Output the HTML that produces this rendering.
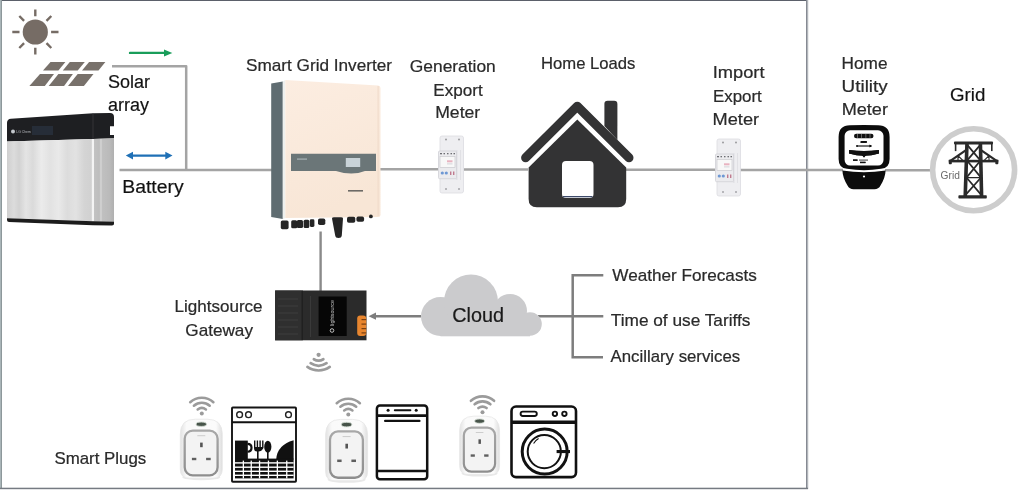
<!DOCTYPE html>
<html><head><meta charset="utf-8">
<style>
html,body{margin:0;padding:0;background:#fff;width:1024px;height:494px;overflow:hidden}
svg{display:block;filter:blur(0.45px)}
text{font-family:"Liberation Sans",sans-serif}
.t{fill:#2a2a2a} .t text{stroke:#2a2a2a;stroke-width:0.22px}
</style></head><body>
<svg width="1024" height="494" viewBox="0 0 1024 494">
<defs>
 <linearGradient id="batg" gradientUnits="userSpaceOnUse" x1="7" x2="93" y1="0" y2="0">
  <stop offset="0" stop-color="#cfcfcf"/><stop offset="0.08" stop-color="#dcdcdc"/><stop offset="0.14" stop-color="#d2d2d2"/><stop offset="0.22" stop-color="#e4e4e4"/><stop offset="0.3" stop-color="#dadada"/><stop offset="0.4" stop-color="#ebebeb"/><stop offset="0.5" stop-color="#e2e2e2"/><stop offset="0.6" stop-color="#e9e9e9"/><stop offset="0.7" stop-color="#dcdcdc"/><stop offset="0.8" stop-color="#e2e2e2"/><stop offset="0.9" stop-color="#d4d4d4"/><stop offset="1" stop-color="#d0d0d0"/>
 </linearGradient>
 <linearGradient id="invface" x1="0" x2="0.3" y1="0" y2="1">
  <stop offset="0" stop-color="#fcede1"/><stop offset="1" stop-color="#f8e6d6"/>
 </linearGradient>
 <linearGradient id="batside" gradientUnits="userSpaceOnUse" x1="93" x2="114" y1="0" y2="0">
  <stop offset="0" stop-color="#c4c4c4"/><stop offset="0.3" stop-color="#bdbdbd"/><stop offset="0.38" stop-color="#d6d6d6"/><stop offset="0.45" stop-color="#c0c0c0"/><stop offset="0.8" stop-color="#bababa"/><stop offset="1" stop-color="#b0b0b0"/>
 </linearGradient>
</defs>
<!-- frame -->
<rect x="0" y="0" width="807" height="1" fill="#5b606a"/>
<rect x="0" y="0" width="1" height="489" fill="#a9b5b8"/><rect x="1" y="0" width="1" height="489" fill="#8d989b"/>
<rect x="806" y="0" width="1.2" height="489" fill="#868a93"/><rect x="807.2" y="0" width="1" height="489" fill="#a6abb1"/>
<rect x="0" y="487.7" width="808" height="1.5" fill="#757a82"/>

<!-- connector lines -->
<g stroke="#a4a4a4" stroke-width="2.5" fill="none">
 <path d="M112 66.25 H186.2 V170" stroke-linejoin="round"/>
 <path d="M119.5 170 H272"/>
 <path d="M380 169.3 H438"/>
 <path d="M464 169.5 H528"/>
 <path d="M626 169.7 H715"/>
 <path d="M740 169.9 H843"/>
 <path d="M885 170.3 H930"/>
</g>
<path d="M320.6 231.5 V291" stroke="#8a8a8a" stroke-width="2.4"/>
<g stroke="#7d7d7d" stroke-width="2.5" fill="none">
 <path d="M374 316.2 H421"/>
 <path d="M538 316.3 H603.3"/>
 <path d="M603.3 275.35 H572.7 V357.2 H603"/>
</g>
<path d="M368.5 316.2 L376 312.6 L376 319.8 Z" fill="#7d7d7d"/>

<!-- sun -->
<g fill="#766c65" stroke="#766c65">
 <circle cx="35.3" cy="32" r="12.6" stroke="none"/>
 <g stroke-width="2.4" stroke-linecap="butt">
  <path d="M35.3 9.5 V16.2 M35.3 47.8 V54.5 M12.3 32 H19.5 M51.1 32 H58.5"/>
  <path d="M19.3 16 L24.1 20.8 M51.3 16 L46.5 20.8 M19.3 48 L24.1 43.2 M51.3 48 L46.5 43.2"/>
 </g>
</g>
<!-- solar panel -->
<g fill="#78716b">
 <path d="M50.5 62 L65.4 62 L58.4 70.6 L43 70.6 Z"/>
 <path d="M69.8 62 L84.8 62 L77.7 70.6 L62.8 70.6 Z"/>
 <path d="M89.1 62 L105.4 62 L98.5 70.6 L82 70.6 Z"/>
 <path d="M40 74 L54 74 L44.8 85.9 L29.4 85.9 Z"/>
 <path d="M58.4 74 L72.9 74 L64.1 85.9 L48.7 85.9 Z"/>
 <path d="M77.7 74 L93.5 74 L83.9 85.9 L68 85.9 Z"/>
</g>
<!-- battery -->
<g>
 <path d="M7 141.5 L7 123 Q7 119 11 118.8 L93 113.2 L110 113 Q114 113 114 117 L114 126.3 L110 126.3 L110 135 L114 135 L114 138.5 L93 139 Z" fill="#1e1f22"/>
 <path d="M7 141.5 L93 139 L114 138.5 L114 222 L93 221.5 L7 218.5 Z" fill="url(#batg)"/>
 <path d="M93 139 L114 138.5 L114 222 L93 221.5 Z" fill="url(#batside)"/>
 <rect x="91.8" y="139" width="2.2" height="82.5" fill="#f4f4f4"/>
 <path d="M7 218.3 L93 221.3 L114 221.7 L114 224 Q114 225.4 112 225.4 L93 225.2 L9 222 Q7 222 7 220 Z" fill="#1c1c1c"/>
 <rect x="32" y="126" width="21" height="9" fill="#262d38"/>
 <line x1="93" y1="113.5" x2="93" y2="139" stroke="#3a3b3e" stroke-width="0.8"/>
 <circle cx="13" cy="131.4" r="2" fill="#c3c7cc"/>
 <text x="16.3" y="133" font-size="4.4" fill="#b9bdc3" textLength="14.5" lengthAdjust="spacingAndGlyphs">LG Chem</text>
</g>

<!-- inverter -->
<g>
 <path d="M271.2 83.5 L282.8 81.5 L282.8 219 L271.2 217 Z" fill="#5f6c71"/>
 <path d="M282.8 81.5 L285.3 80 L285.3 218 L282.8 219 Z" fill="#eef0ee"/>
 <path d="M285.3 80 L378 85.5 Q380.5 85.7 380.5 88 L380.5 215 Q380.5 217 378 217 L285.3 218 Z" fill="url(#invface)"/>
 <rect x="377.6" y="86" width="1" height="130" fill="#efd9c9"/>
 <path d="M291 153.7 L376 153.7 L376 171 L365 171 Q352 176 336 171 L291 171 Z" fill="#6b7678"/>
 <rect x="345.8" y="158" width="14.4" height="9" fill="#c9d3d8"/>
 <rect x="297" y="158.5" width="10" height="1.2" fill="#a9b3b5"/>
 <rect x="348" y="190" width="15" height="1.6" fill="#6d6a66"/>
 <g fill="#252525">
  <rect x="280.8" y="220.5" width="7.8" height="8.7" rx="1.6"/>
  <rect x="291.2" y="220.3" width="6" height="8" rx="1.5"/>
  <rect x="296.8" y="220" width="6.2" height="8" rx="1.5"/>
  <rect x="303.6" y="219.7" width="5.7" height="8.3" rx="1.5"/>
  <rect x="309.8" y="219.3" width="4.6" height="7.7" rx="1.4"/>
  <rect x="318" y="218.5" width="7.3" height="6.5" rx="1.8"/>
  <path d="M332 218.5 Q332 217.3 334 217.3 L341 217.3 Q343 217.3 343 218.5 L341.8 235.5 Q341.5 238 338.5 238 Q335.5 238 335.2 235.5 Z"/>
  <rect x="347" y="216.8" width="8.3" height="5.9" rx="1.8"/>
  <rect x="356.4" y="216.6" width="7.7" height="5.2" rx="1.8"/>
  <circle cx="370.9" cy="216.4" r="1.9"/>
 </g>
</g>

<!-- DIN meters -->
<g id="m1">
 <rect x="440" y="136" width="23.5" height="57" rx="2" fill="#eeeef1" stroke="#dcdce1" stroke-width="0.8"/>
 <circle cx="446" cy="139.5" r="1" fill="#9a9a9e"/><circle cx="459" cy="139.5" r="1" fill="#9a9a9e"/>
 <circle cx="446" cy="189" r="1" fill="#a5a5a9"/><circle cx="459" cy="189" r="1" fill="#a5a5a9"/>
 <rect x="438.5" y="151" width="18" height="27.7" rx="1" fill="#ebebee" stroke="#cdcdd3" stroke-width="0.7"/>
 <g fill="#6d6e73"><rect x="440" y="153" width="2" height="1.3"/><rect x="443.5" y="153" width="1.5" height="1.3"/><rect x="447" y="153" width="1.5" height="1.3"/><rect x="450.5" y="153" width="1.5" height="1.3"/><rect x="453.5" y="153" width="1.5" height="1.3"/></g>
 <rect x="440" y="156.3" width="15" height="11.2" fill="#f8f8f8" stroke="#c3c3c8" stroke-width="0.6"/>
 <rect x="447" y="160.3" width="5.5" height="2" fill="#e8b3c0"/>
 <rect x="447" y="163.5" width="5.5" height="0.8" fill="#c9cbd2"/>
 <circle cx="442.3" cy="173" r="1.6" fill="#6e98d4"/><circle cx="446.3" cy="173" r="1.6" fill="#6e98d4"/>
 <rect x="450" y="171.5" width="1.4" height="3.5" fill="#c07a8e"/><rect x="453" y="171.5" width="1.4" height="3.5" fill="#c07a8e"/>
 <rect x="456.5" y="150" width="0.8" height="30" fill="#d6d6dc"/>
 <rect x="460" y="150" width="0.8" height="30" fill="#dedee3"/>
</g>
<use href="#m1" transform="translate(277 3)"/>

<!-- house -->
<g fill="#333334">
 <path d="M604.4 126 L604.4 104 Q604.4 100.8 607.6 100.8 L614.2 100.8 Q617.4 100.8 617.4 104 L617.4 140 Z"/>
 <path d="M525.6 157.8 L577.3 106.3 L629 157.8" fill="none" stroke="#333334" stroke-width="9" stroke-linecap="round" stroke-linejoin="round"/>
 <path d="M577.3 119.6 L626.2 167.5 L626.2 199 Q626.2 207.3 618 207.3 L536.8 207.3 Q528.6 207.3 528.6 199 L528.6 167.5 Z"/>
 <rect x="562" y="161" width="31.5" height="37" rx="4" fill="#fff"/>
 <rect x="563" y="196" width="29.5" height="1.3" fill="#3d4a6a"/>
</g>

<!-- utility meter -->
<g>
 <path d="M838.6 137 Q838.6 125.2 850 125.2 Q864 124.6 878 125.2 Q889.6 125.2 889.6 137 L889.6 159 Q889.6 168.3 881 168.8 Q864 171.6 847 168.8 Q838.6 168.3 838.6 159 Z" fill="#0c0c0c"/>
 <rect x="844.6" y="130.3" width="38.9" height="35.3" rx="5.5" fill="#fff"/>
 <path d="M842.4 170.6 Q864 174 885.6 170.6 Q885.3 178 880.5 185.5 Q878.5 189.3 874.5 189.3 L853.5 189.3 Q849.5 189.3 847.5 185.5 Q842.7 178 842.4 170.6 Z" fill="#0c0c0c"/>
 <circle cx="864" cy="176.5" r="1.1" fill="#fff"/>
 <rect x="854" y="133.7" width="19.5" height="4.5" rx="2.25" fill="#111"/>
 <g fill="#9a9a9a"><rect x="857.3" y="134" width="0.6" height="3.9"/><rect x="861.4" y="134" width="0.6" height="3.9"/><rect x="865.6" y="134" width="0.6" height="3.9"/><rect x="869.7" y="134" width="0.6" height="3.9"/></g>
 <rect x="860.7" y="141" width="6.4" height="1.8" rx="0.9" fill="#111"/>
 <path d="M857 146 H870.5" stroke="#8a8a8a" stroke-width="0.9"/>
 <circle cx="857" cy="146" r="1" fill="#111"/><circle cx="870.5" cy="146" r="1" fill="#111"/>
 <path d="M849 150 Q864 152 879 150 L879 153.5 Q864 158 849 153.5 Z" fill="#111"/>
 <path d="M861.5 154.5 L866.5 154.5 L864 157.5 Z" fill="#111"/>
 <rect x="853" y="159.5" width="4.5" height="1.3" fill="#111"/>
 <path d="M859 160.1 H868" stroke="#555" stroke-width="0.7"/>
 <rect x="860" y="161.8" width="5.5" height="1.3" fill="#111"/>
</g>
 <rect x="860.5" y="141.3" width="6" height="1.6" fill="#111"/>
 <path d="M857 146 H871" stroke="#111" stroke-width="0.9"/>
 <path d="M869.5 144.6 L872 146 L869.5 147.4Z" fill="#111"/>
 <path d="M849 150 Q864 152 879 150 L879 153.5 Q864 158 849 153.5 Z" fill="#111"/>
 <path d="M861.5 154.5 L866.5 154.5 L864 157.5 Z" fill="#111"/>
 <rect x="853" y="159.5" width="4.5" height="1.3" fill="#111"/>
 <path d="M859 160.1 H868" stroke="#555" stroke-width="0.7"/>
 <rect x="860" y="161.8" width="5.5" height="1.3" fill="#111"/>
</g>

<!-- grid circle -->
<g>
 <circle cx="973.6" cy="169.8" r="41" fill="#fff" stroke="#cdcdcd" stroke-width="5.6"/>
 <text x="940.6" y="179" font-size="11" fill="#6a6a6a" textLength="19.3" lengthAdjust="spacingAndGlyphs">Grid</text>
 <g fill="#2a2a2a" transform="translate(0 0.6)">
  <rect x="954" y="141" width="39" height="2.8" rx="0.8"/>
  <rect x="954.8" y="142" width="1.6" height="8.5"/>
  <rect x="991" y="142" width="1.6" height="8.5"/>
  <path d="M965.2 142 L968.8 142 L967 196 L963.4 196 Z"/>
  <path d="M978.6 142 L982.2 142 L983.4 196 L979.8 196 Z"/>
  <rect x="958.4" y="194.6" width="28.4" height="3.4" rx="0.8"/>
  <rect x="948.8" y="159.2" width="49.5" height="2.6"/>
  <rect x="948.8" y="159.2" width="3" height="4.5" rx="0.8"/>
  <rect x="995.3" y="159.2" width="3" height="4.5" rx="0.8"/>
 </g>
 <g stroke="#2a2a2a" fill="none" transform="translate(0 0.6)">
  <path d="M966 149.5 L950 160.5 M981 149.5 L997 160.5" stroke-width="2.2"/>
  <path d="M958 155 V160 M989 155 V160 M958 155 L963 160 M989 155 L984 160" stroke-width="1.2"/>
  <path d="M967 144 L980.5 160 L966.5 177 L981 194 M980.5 144 L967 160 L981 177 L965.8 194" stroke-width="1.7"/>
  <path d="M967 160 H980.5 M966.5 177 H981" stroke-width="1.4"/>
 </g>
</g>

<!-- gateway -->
<g>
 <rect x="275.1" y="290.5" width="91.4" height="49.8" fill="#2b2b2b"/>
 <rect x="275.1" y="290.5" width="26.5" height="49.8" fill="#2f2f2f"/>
 <g fill="#3e3e3e"><rect x="278" y="298.5" width="20" height="1"/><rect x="278" y="305.5" width="20" height="1"/><rect x="278" y="312.5" width="20" height="1"/><rect x="278" y="319.5" width="20" height="1"/><rect x="278" y="326.5" width="20" height="1"/><rect x="278" y="333.5" width="20" height="1"/></g>
 <rect x="301.6" y="290.5" width="1.2" height="49.8" fill="#1e1e1e"/>
 <rect x="310" y="296" width="1" height="41" fill="#3a3a3a"/>
 <rect x="318.6" y="296.5" width="28.1" height="39.5" fill="#060606"/>
 <text transform="translate(334.2 326) rotate(-90)" font-size="4.6" fill="#bdbdbd" textLength="26" lengthAdjust="spacingAndGlyphs">lightsource</text>
 <circle cx="332" cy="330.5" r="1.8" fill="none" stroke="#cfcfcf" stroke-width="0.9"/>
 <rect x="357.2" y="315.4" width="9" height="20.6" rx="3" fill="#e8862f"/>
 <g fill="#7a3f10"><rect x="361.5" y="319" width="4.7" height="1.2"/><rect x="361.5" y="323.5" width="4.7" height="1.2"/><rect x="361.5" y="328" width="4.7" height="1.2"/><rect x="361.5" y="332.3" width="4.7" height="1.2"/></g>
</g>

<!-- cloud -->
<g fill="#cbcbcd">
 <circle cx="440.5" cy="316.5" r="19.5"/>
 <circle cx="471" cy="301.5" r="27"/>
 <circle cx="510" cy="311" r="17"/>
 <circle cx="530" cy="324" r="11.8"/>
 <rect x="440.5" y="316" width="89.5" height="20.3"/>
 <rect x="460" y="300" width="55" height="20"/>
</g>
<text x="452.2" y="322.2" font-size="19.6" fill="#1a1a1a" stroke="#1a1a1a" stroke-width="0.2" style="filter:grayscale(1)" textLength="51.8" lengthAdjust="spacingAndGlyphs">Cloud</text>

<!-- wifi (gateway, downward) -->
<g stroke="#9b9b9b" stroke-width="2.7" fill="none" stroke-linecap="round">
 <circle cx="318.6" cy="354.8" r="2.1" fill="#9b9b9b" stroke="none"/>
 <path d="M313.85 359.23 A9.5 9.5 0 0 0 323.35 359.23"/>
 <path d="M310.65 363.24 A14.6 14.6 0 0 0 326.55 363.24"/>
 <path d="M307.42 366.97 A19.5 19.5 0 0 0 329.78 366.97"/>
</g>

<!-- plugs -->
<defs>
 <linearGradient id="plugbody" x1="0" x2="1" y1="0" y2="0">
  <stop offset="0" stop-color="#e2e2e2"/><stop offset="0.15" stop-color="#fafafa"/><stop offset="0.85" stop-color="#fbfbfb"/><stop offset="1" stop-color="#dedede"/>
 </linearGradient>
 <g id="plug">
  <ellipse cx="0" cy="53" rx="19" ry="3" fill="#e9e9e9"/>
  <path d="M-21 10 Q-21 -5 -6 -5 L6 -5 Q21 -5 21 10 L21 45 Q21 54 12 54 L-12 54 Q-21 54 -21 45 Z" fill="url(#plugbody)" stroke="#e6e6e6" stroke-width="0.8"/>
  <ellipse cx="0" cy="0" rx="5.2" ry="2.2" fill="#47544a" stroke="#d5ddd5" stroke-width="0.9"/>
  <rect x="-16.6" y="6.5" width="32.9" height="44.6" rx="8" fill="#f3f3f3" stroke="url(#ringg)" stroke-width="2.3"/>
  <rect x="-4" y="11" width="8" height="1" fill="#cdcdcd"/>
  <rect x="-1.2" y="18.4" width="2.6" height="4.6" fill="#555"/>
  <rect x="-9.4" y="33.6" width="4.4" height="2.4" fill="#5f5f5f"/>
  <rect x="4.8" y="33.6" width="4.6" height="2.4" fill="#5f5f5f"/>
 </g>
 <linearGradient id="ringg" x1="0" x2="0" y1="0" y2="1">
  <stop offset="0" stop-color="#a8a8a8"/><stop offset="1" stop-color="#8e8e8e"/>
 </linearGradient>
 <g id="wifi">
  <circle cx="0" cy="0" r="2" fill="#9b9b9b"/>
  <g stroke="#9b9b9b" stroke-width="2.6" fill="none" stroke-linecap="round">
   <path d="M-4.11 -4.16 A7 7 0 0 1 4.11 -4.16"/>
   <path d="M-7.91 -7.92 A12.3 12.3 0 0 1 7.91 -7.92"/>
   <path d="M-11.58 -11.36 A17.3 17.3 0 0 1 11.58 -11.36"/>
  </g>
 </g>
</defs>
<use href="#plug" x="201.3" y="424.2"/>
<use href="#wifi" x="201.8" y="413.6"/>
<use href="#plug" transform="translate(346.6 424.6) scale(1 1.04)"/>
<use href="#wifi" x="348.3" y="414.6"/>
<use href="#plug" transform="translate(479.6 421.1) scale(0.95 0.99)"/>
<use href="#wifi" x="482.5" y="412.2"/>

<!-- oven / dishwasher 1 -->
<g>
 <rect x="232" y="407.5" width="64" height="74.3" rx="0.8" fill="#fff" stroke="#151515" stroke-width="1.9"/>
 <path d="M232 422.2 H296" stroke="#111" stroke-width="2"/>
 <g fill="none" stroke="#222" stroke-width="1.4"><circle cx="239.6" cy="414.7" r="2.9"/><circle cx="248.5" cy="414.7" r="2.9"/><circle cx="288.5" cy="414.7" r="2.9"/></g>
 <g fill="#111">
  <rect x="235" y="440.6" width="12.8" height="19"/>
  <path d="M247.5 442.8 Q252.6 442.8 252.6 447.8 Q252.6 452.8 247.5 452.8 L247.5 450.6 Q250.4 450.6 250.4 447.8 Q250.4 445 247.5 445 Z"/>
  <path d="M254 440.5 h1.4 v6.5 h1.3 v-6.5 h1.4 v6.5 h1.3 v-6.5 h1.4 v6.5 h1.3 v-6.5 h1.4 v7.5 Q261.5 451.5 258.6 451.5 L258.6 459 h-1.6 L257 451.5 Q254 451.5 254 448 Z"/>
  <ellipse cx="267.8" cy="446.7" rx="3.6" ry="6"/>
  <rect x="267" y="451" width="1.6" height="8"/>
  <path d="M276.2 459.5 Q277 445 293.6 440.3 L293.6 459.5 Z"/>
 </g>
 <rect x="235" y="458.6" width="58.6" height="19.8" fill="#111"/>
 <g fill="#fff">
  <rect x="235" y="462.2" width="58.6" height="1.4"/><rect x="235" y="466.5" width="58.6" height="1.4"/><rect x="235" y="470.6" width="58.6" height="1.4"/><rect x="235" y="474.6" width="58.6" height="1.4"/>
  <rect x="242.7" y="460.6" width="1.3" height="17.8"/><rect x="250.6" y="460.6" width="1.3" height="17.8"/><rect x="258.9" y="460.6" width="1.3" height="17.8"/><rect x="267.8" y="460.6" width="1.3" height="17.8"/><rect x="276.7" y="460.6" width="1.3" height="17.8"/><rect x="286.1" y="460.6" width="1.3" height="17.8"/>
 </g>
</g>

<!-- dishwasher 2 -->
<g>
 <rect x="376.9" y="405.5" width="50.3" height="73.7" rx="3" fill="#fff" stroke="#111" stroke-width="2.5"/>
 <path d="M376.9 415.6 H427.2" stroke="#111" stroke-width="2.8"/>
 <path d="M376.9 471.1 H427.2" stroke="#111" stroke-width="2.5"/>
 <circle cx="388.1" cy="410.3" r="1.5" fill="#111"/><circle cx="416.2" cy="410.3" r="1.5" fill="#111"/>
 <rect x="393.8" y="409.3" width="17.6" height="2" rx="1" fill="#111"/>
 <rect x="384" y="419.8" width="36.6" height="2.2" rx="1.1" fill="#111"/>
</g>

<!-- washing machine -->
<g fill="none" stroke="#111">
 <rect x="511.5" y="406.5" width="64.5" height="70.6" rx="4.5" fill="#fff" stroke-width="2.6"/>
 <path d="M511.5 422.2 H576" stroke-width="3.6"/>
 <rect x="520.6" y="411.6" width="16.2" height="4.4" rx="2.2" stroke-width="1.9"/>
 <circle cx="554.9" cy="413.8" r="2.2" stroke-width="1.9"/>
 <circle cx="564.4" cy="413.8" r="2.2" stroke-width="1.9"/>
 <circle cx="544.7" cy="451.6" r="22.5" stroke-width="3"/>
 <circle cx="544.3" cy="451.6" r="16.6" stroke-width="2"/>
 <path d="M533.6 443.5 A13 13 0 0 1 538.6 438.5" stroke-width="1.1"/>
 <rect x="556.6" y="450" width="13.4" height="3.1" fill="#111" stroke="none"/>
</g>

<!-- arrows -->
<path d="M130 52.9 H165" stroke="#199d5a" stroke-width="2.4" stroke-linecap="round"/>
<path d="M164 49.4 L172.3 52.9 L164 56.6 Z" fill="#199d5a"/>
<path d="M132 155.6 H166" stroke="#1f70b6" stroke-width="2.2"/>
<path d="M125.8 155.6 L133 151.8 L133 159.4 Z" fill="#1f70b6"/>
<path d="M172.5 155.6 L165.3 151.8 L165.3 159.4 Z" fill="#1f70b6"/>

<!-- texts -->
<g class="t" style="filter:grayscale(1)">
 <text x="108" y="88.4" font-size="18" fill="#111" stroke="#111" stroke-width="0.12">Solar</text>
 <text x="108" y="110.7" font-size="18" fill="#111" stroke="#111" stroke-width="0.12">array</text>
 <text x="122.2" y="192.7" font-size="18" fill="#111" stroke="#111" stroke-width="0.12" textLength="61.5" lengthAdjust="spacingAndGlyphs">Battery</text>
 <text x="950" y="101.3" font-size="18" fill="#111" stroke="#111" stroke-width="0.12" textLength="35.3" lengthAdjust="spacingAndGlyphs">Grid</text>
 <text x="246" y="70.8" font-size="16.4" textLength="146" lengthAdjust="spacingAndGlyphs">Smart Grid Inverter</text>
 <text x="409.8" y="71.8" font-size="16.4" textLength="86.0" lengthAdjust="spacingAndGlyphs">Generation</text>
 <text x="433.3" y="95.7" font-size="16.4" textLength="49.4" lengthAdjust="spacingAndGlyphs">Export</text>
 <text x="435.2" y="117.6" font-size="16.4" textLength="45.0" lengthAdjust="spacingAndGlyphs">Meter</text>
 <text x="541" y="68.75" font-size="16.4" textLength="94.4" lengthAdjust="spacingAndGlyphs">Home Loads</text>
 <text x="712.8" y="78.4" font-size="16.4" textLength="51.7" lengthAdjust="spacingAndGlyphs">Import</text>
 <text x="713" y="101.8" font-size="16.4" textLength="48.8" lengthAdjust="spacingAndGlyphs">Export</text>
 <text x="712.6" y="125" font-size="16.4" textLength="46.5" lengthAdjust="spacingAndGlyphs">Meter</text>
 <text x="841.6" y="69.2" font-size="16.4" textLength="45.9" lengthAdjust="spacingAndGlyphs">Home</text>
 <text x="841.6" y="92.1" font-size="16.4" textLength="46.1" lengthAdjust="spacingAndGlyphs">Utility</text>
 <text x="841.7" y="115.2" font-size="16.4" textLength="46.3" lengthAdjust="spacingAndGlyphs">Meter</text>
 <text x="174.6" y="311.7" font-size="16.4" textLength="88.0" lengthAdjust="spacingAndGlyphs">Lightsource</text>
 <text x="185.3" y="336" font-size="16.4" textLength="67.7" lengthAdjust="spacingAndGlyphs">Gateway</text>
 <text x="612.3" y="281.2" font-size="16.4" textLength="144.5" lengthAdjust="spacingAndGlyphs">Weather Forecasts</text>
 <text x="610.8" y="325.7" font-size="16.4" textLength="139.6" lengthAdjust="spacingAndGlyphs">Time of use Tariffs</text>
 <text x="610.6" y="362.4" font-size="16.4" textLength="129.6" lengthAdjust="spacingAndGlyphs">Ancillary services</text>
 <text x="54.4" y="463.6" font-size="16.4" textLength="91.8" lengthAdjust="spacingAndGlyphs">Smart Plugs</text>
</g>
</svg>
</body></html>
